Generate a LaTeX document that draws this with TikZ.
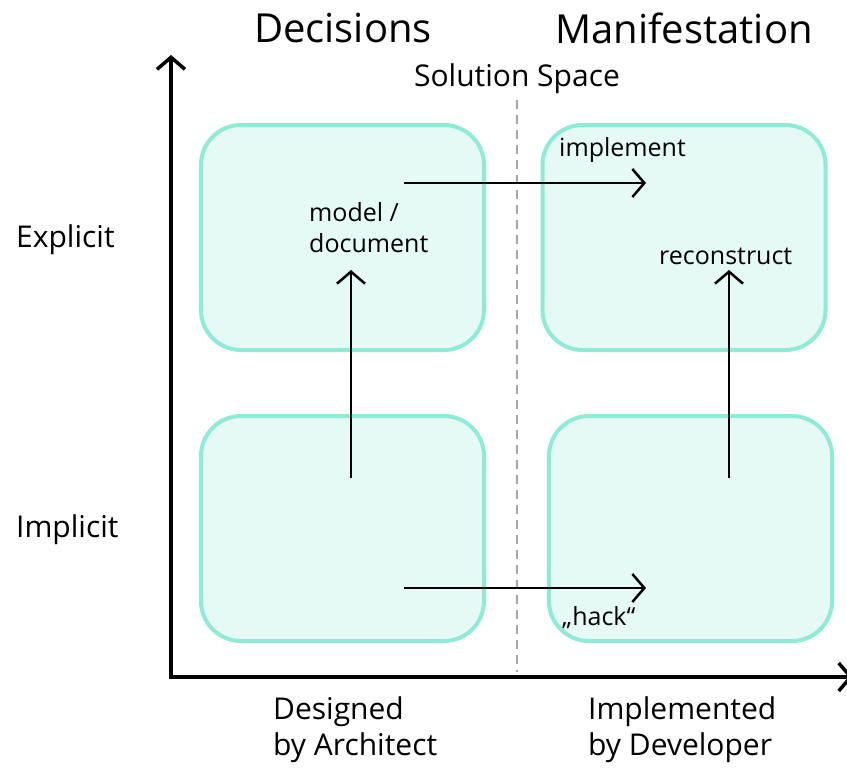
\documentclass[tikz,border=0pt]{standalone}
\usepackage{fontspec}
\setmainfont{Open Sans}
\usetikzlibrary{arrows.meta}
\definecolor{boxline}{HTML}{8EEBD5}
\definecolor{boxfill}{HTML}{E6FAF5}
\begin{document}
\begin{tikzpicture}[x=1pt,y=-1pt,
  quad/.style={draw=boxline,fill=boxfill,line width=4pt,rounded corners=40pt,minimum width=283pt,minimum height=225pt,inner sep=0pt},
  axis/.style={line width=4pt,-{Straight Barb[length=12pt,width=28pt,line width=3.5pt]}},
  conn/.style={line width=2.5pt,-{Straight Barb[length=12pt,width=28pt,line width=2.5pt]}},
  big/.style={font=\fontsize{40}{46}\selectfont,inner sep=0pt},
  mid/.style={font=\fontsize{30}{36}\selectfont,inner sep=0pt},
  lbl/.style={font=\fontsize{25}{31}\selectfont,inner sep=0pt,align=left}]
\useasboundingbox (0,0) rectangle (847,769);
\node[quad] (tl) at (342.5,237.5) {};
\node[quad] (tr) at (684,237.5) {};
\node[quad] (bl) at (342.5,528.5) {};
\node[quad] (br) at (690.5,528.5) {};
\coordinate (dtop) at (517,100);
\coordinate (dbot) at (517,672);
\draw[gray!70,line width=1.5pt,dash pattern=on 9pt off 6pt] (dtop) -- (dbot);
\coordinate (origin) at (171,679);
\coordinate (ytip) at (171,55);
\coordinate (xtip) at (853,677);
\draw[axis] (origin) -- (ytip);
\draw[axis] (169,677) -- (xtip);
\coordinate (a1s) at (404,183); \coordinate (a1e) at (646,183);
\coordinate (a2s) at (404,588); \coordinate (a2e) at (646,588);
\coordinate (a3s) at (351,478); \coordinate (a3e) at (351,270);
\coordinate (a4s) at (729,478); \coordinate (a4e) at (729,270);
\draw[conn] (a1s) -- (a1e);
\draw[conn] (a2s) -- (a2e);
\draw[conn] (a3s) -- (a3e);
\draw[conn] (a4s) -- (a4e);
\node[big] (dec) at (343,28) {Decisions};
\node[big] (man) at (684,28) {Manifestation};
\node[mid] (sol) at (517,79) {Solution Space};
\node[mid,anchor=west] (exp) at (16,240) {Explicit};
\node[mid,anchor=west] (imp) at (16,530) {Implicit};
\node[mid,anchor=north west,align=left] (des) at (273,696) {Designed\\by Architect};
\node[mid,anchor=north west,align=left] (impl) at (588,696) {Implemented\\by Developer};
\node[lbl,anchor=west] (implement) at (559,150) {implement};
\node[lbl,anchor=north west] (model) at (309,202) {model /\\document};
\node[lbl,anchor=west] (rec) at (659,256) {reconstruct};
\node[lbl,anchor=west] (hack) at (562,618) {„hack“};
\end{tikzpicture}
\end{document}
